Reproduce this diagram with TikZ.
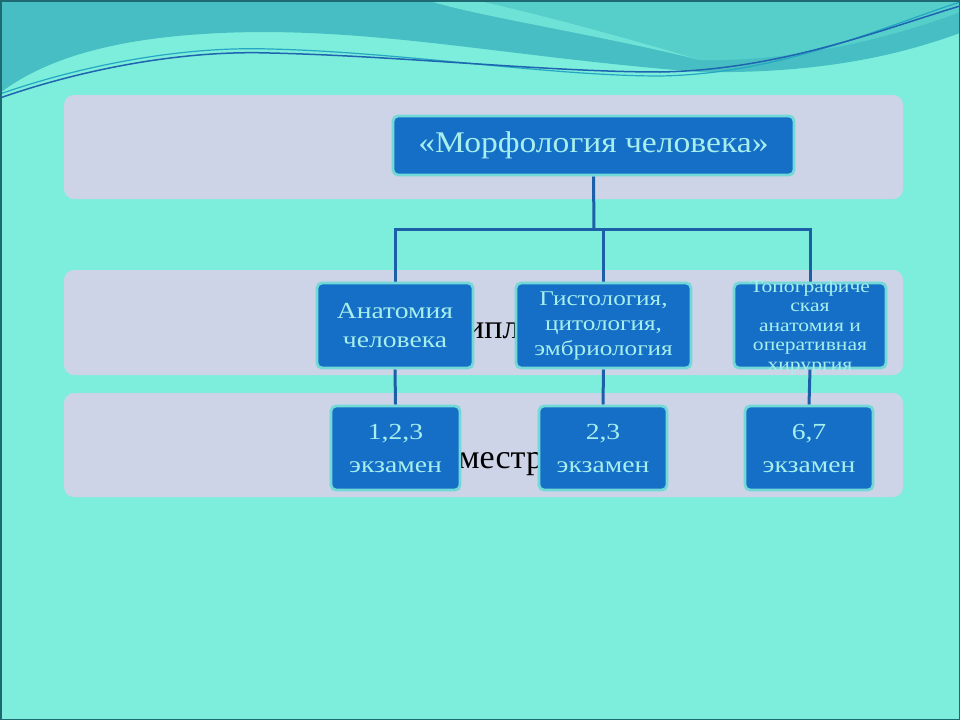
\documentclass[tikz,border=0pt]{standalone}
\usepackage{fontspec}
\setmainfont{Liberation Serif}
\newfontfamily\boxfont[FakeStretch=1.2]{Liberation Serif}
\newfontfamily\topfont[FakeStretch=1.12]{Liberation Serif}
\pgfdeclarelayer{bg}
\pgfdeclarelayer{mid}
\pgfsetlayers{bg,mid,main}
\definecolor{aqua}{HTML}{7EEEDC}
\definecolor{darkteal}{HTML}{47BEC3}
\definecolor{medteal}{HTML}{56CFCB}
\definecolor{lightstripe}{HTML}{6FE2D7}
\definecolor{bandcol}{HTML}{CDD4E8}
\definecolor{boxfill}{HTML}{166FC6}
\definecolor{boxborder}{HTML}{72D8D8}
\definecolor{boxtext}{HTML}{A6EFEC}
\definecolor{conncol}{HTML}{1C5FA8}
\definecolor{framecol}{HTML}{1F6A72}
\definecolor{waveblue}{HTML}{1E64B0}
\definecolor{wavecyan}{HTML}{25A6C2}
\tikzset{
  band/.style={fill=bandcol, draw=none, rounded corners=10pt},
  obox/.style={draw=boxborder, line width=2.8pt, fill=boxfill, rounded corners=5pt,
    text=boxtext, align=center, inner sep=0pt},
  conn/.style={draw=conncol, line width=3pt},
  hidtext/.style={text=black, font=\fontsize{34}{40}\selectfont, inner sep=0pt}
}
\begin{document}
\begin{tikzpicture}[x=1pt,y=-1pt]
\useasboundingbox (0,0) rectangle (960,720);
\begin{pgfonlayer}{bg}
  % background
  \fill[aqua] (0,0) rectangle (960,720);
  % waves
  \fill[darkteal] (0,0) -- (0,93) .. controls (50,55) and (130,33) .. (260,32)
     .. controls (400,32) and (520,58) .. (700,72)
     .. controls (820,74) and (900,55) .. (960,33) -- (960,0) -- cycle;
  \fill[medteal] (475,0) .. controls (520,10) and (600,30) .. (700,60)
     .. controls (800,62) and (900,35) .. (960,12) -- (960,0) -- cycle;
  \fill[lightstripe] (427,0) .. controls (470,15) and (600,35) .. (700,60)
     .. controls (600,30) and (520,10) .. (475,0) -- cycle;
  \draw[wavecyan, line width=1.2pt] (0,94) .. controls (80,66) and (180,46) .. (270,49)
     .. controls (400,52) and (550,76) .. (660,76)
     .. controls (780,74) and (880,28) .. (960,2);
  \draw[waveblue, line width=1.5pt] (0,98) .. controls (80,70) and (180,50) .. (270,53)
     .. controls (400,56) and (550,72) .. (660,72)
     .. controls (780,70) and (880,30) .. (960,6);
  % bands
  \path[band] (64,95) rectangle (903,199);
  \path[band] (64,270) rectangle (903,375);
  \path[band] (64,393) rectangle (903,497);
  % text fragments visible between the boxes
  \node[hidtext, anchor=base west] (disc) at (466,338) {ипл};
  \node[hidtext, anchor=base west] (sem) at (458,468) {местр};
  % frame
  \draw[framecol, line width=1.5pt] (0.75,0.75) rectangle (959.25,719.25);
\end{pgfonlayer}

% boxes
\node[obox, minimum width=401pt, minimum height=59pt,
      font=\topfont\fontsize{30}{36}\selectfont] (top) at (593.5,145.5) {«Морфология человека»};

\node[obox, minimum width=156pt, minimum height=85pt,
      font=\boxfont\fontsize{23}{29}\selectfont] (anat) at (395,325.5) {Анатомия\\человека};
\node[obox, minimum width=175pt, minimum height=85pt,
      font=\boxfont\fontsize{21}{25}\selectfont] (hist) at (603.5,325.5) {Гистология,\\цитология,\\эмбриология};
\node[obox, minimum width=152pt, minimum height=85pt] (topo) at (810,325.5) {};
\node[text=boxtext, align=center, inner sep=0pt,
      font=\boxfont\fontsize{18}{19.5}\selectfont] (topoT) at (810,327) {Топографиче\\ская\\анатомия и\\оперативная\\хирургия};

\node[obox, minimum width=129pt, minimum height=84pt,
      font=\boxfont\fontsize{23}{33}\selectfont] (s1) at (395.5,448) {1,2,3\\экзамен};
\node[obox, minimum width=128pt, minimum height=84pt,
      font=\boxfont\fontsize{23}{33}\selectfont] (s2) at (603,448) {2,3\\экзамен};
\node[obox, minimum width=128pt, minimum height=84pt,
      font=\boxfont\fontsize{23}{33}\selectfont] (s3) at (809,448) {6,7\\экзамен};

% connectors
\begin{pgfonlayer}{mid}
  \coordinate (junc) at (594,229);
  \draw[conn] (top.south) -- (junc);
  \draw[conn] (anat.north) |- (junc) -| (topo.north);
  \draw[conn] (hist.north) -- (hist.north |- junc);
  \draw[conn] (anat.south) -- (s1.north);
  \draw[conn] (hist.south) -- (s2.north);
  \draw[conn] (topo.south) -- (s3.north);
\end{pgfonlayer}
\end{tikzpicture}
\end{document}
